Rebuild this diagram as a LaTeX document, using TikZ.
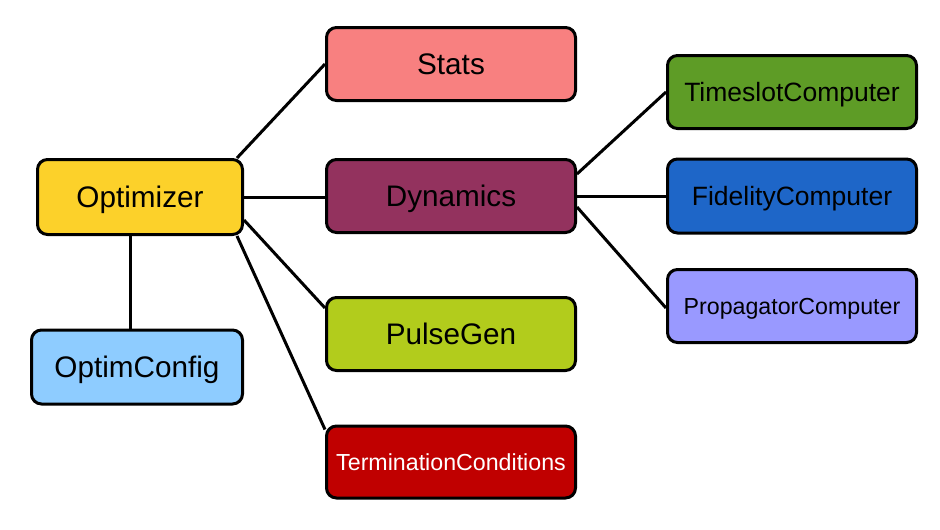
\documentclass[tikz,border=0pt]{standalone}
\usepackage{fontspec}
\setmainfont{Liberation Sans}
\usetikzlibrary{calc,backgrounds}
\definecolor{cOpt}{HTML}{FCD12A}
\definecolor{cStats}{HTML}{F88080}
\definecolor{cDyn}{HTML}{93325E}
\definecolor{cPulse}{HTML}{B2CC1C}
\definecolor{cTerm}{HTML}{C00000}
\definecolor{cConf}{HTML}{8ECCFF}
\definecolor{cTime}{HTML}{5E9C26}
\definecolor{cFid}{HTML}{1E66C8}
\definecolor{cProp}{HTML}{9999FF}
\tikzset{
  box/.style={draw=black, line width=3pt, rounded corners=10pt, inner sep=0pt,
    minimum width=249pt, minimum height=73pt, text=black, align=center, text depth=0pt},
  bigtxt/.style={font=\fontsize{29.7}{32}\selectfont, text height=21.3pt},
  midtxt/.style={font=\fontsize{26.5}{29}\selectfont, text height=19pt},
  smalltxt/.style={font=\fontsize{23.2}{26}\selectfont, text height=16.6pt},
  link/.style={draw=black, line width=3pt}
}
\begin{document}
\begin{tikzpicture}[x=1pt,y=-1pt]
\useasboundingbox (0,0) rectangle (940,530);
\node[box,bigtxt,fill=cOpt,minimum width=205pt,minimum height=75pt] (opt) at (140,197) {Optimizer};
\node[box,bigtxt,fill=cStats] (stats) at (451,64) {Stats};
\node[box,bigtxt,fill=cDyn] (dyn) at (451,196) {Dynamics};
\node[box,bigtxt,fill=cPulse] (pulse) at (451,334) {PulseGen};
\node[box,smalltxt,fill=cTerm,text=white,minimum height=72pt] (term) at (451,462) {TerminationConditions};
\node[box,bigtxt,fill=cConf,minimum width=211pt,minimum height=74pt] (conf) at (137,367) {OptimConfig};
\node[box,midtxt,fill=cTime] (time) at (792,92) {TimeslotComputer};
\node[box,midtxt,fill=cFid,minimum height=74pt] (fid) at (792,196) {FidelityComputer};
\node[box,smalltxt,fill=cProp] (prop) at (792,306) {PropagatorComputer};
\begin{pgfonlayer}{background}
\path ($(opt.north east)+(-7,0)$) coordinate (o1);
\path ($(opt.east)+(0,23)$) coordinate (o2);
\path ($(opt.south east)+(-7,0)$) coordinate (o3);
\path ($(conf.north)+(-7,0)$) coordinate (o4);
\path ($(pulse.north west)+(0,12)$) coordinate (p1);
\path ($(term.north west)+(0,5)$) coordinate (t1);
\path ($(dyn.east)+(0,-22)$) coordinate (d1);
\path ($(dyn.east)+(0,11)$) coordinate (d2);
\path ($(prop.west)+(0,2)$) coordinate (r1);
\draw[link] (o1) -- (stats.west);
\draw[link] (opt.east) -- (opt.east -| dyn.west);
\draw[link] (o2) -- (p1);
\draw[link] (o3) -- (t1);
\draw[link] (o4) -- (o4 |- opt.south);
\draw[link] (d1) -- (time.west);
\draw[link] (dyn.east) -- (dyn.east -| fid.west);
\draw[link] (d2) -- (r1);
\end{pgfonlayer}
\end{tikzpicture}
\end{document}
